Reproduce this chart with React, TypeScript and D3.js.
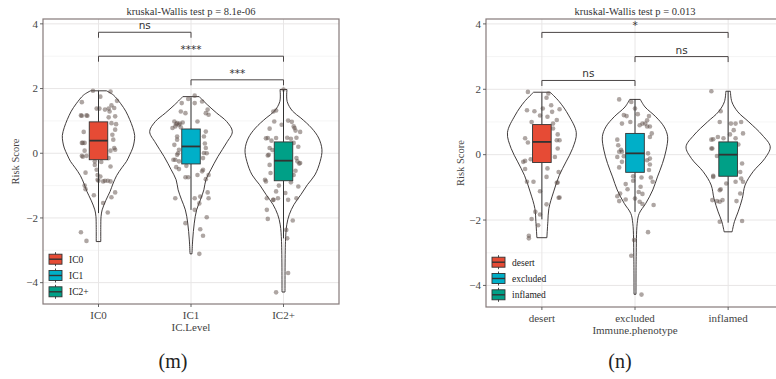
import React, { useEffect, useRef } from "react";
import * as d3 from "d3";

// categories
const icLevels = ["IC0", "IC1", "IC2+"];
const phenotypes = ["desert", "excluded", "inflamed"];
const fillColors = ["#E64B35", "#00AFC8", "#00A087"];
const yTicks = [-4, -2, 0, 2, 4];
const yMinor = [-3, -1, 1, 3];
const yDomain = [-4.66, 4.15];
const densityMax = 42;

// violin outlines: [risk score, density]
const icViolins = [
  [[1.93, 8], [1.8, 15], [1.53, 22.5], [1.3, 27.5], [1.04, 31.5], [0.8, 34.5], [0.55, 36.5], [0.35, 36], [0.16, 34.5], [-0.05, 31.5], [-0.25, 28.3], [-0.45, 23.5], [-0.69, 18.3], [-0.95, 14.5], [-1.18, 11.7], [-1.45, 7.5], [-1.75, 3.7], [-1.95, 2.6], [-2.3, 2.3], [-2.73, 2.3]],
  [[1.75, 8.3], [1.5, 16.5], [1.24, 26], [0.98, 36], [0.67, 41.7], [0.32, 35.8], [-0.1, 27.2], [-0.51, 20], [-0.82, 15], [-1.13, 13], [-1.44, 9.5], [-1.75, 5.7], [-2.16, 3.3], [-2.68, 1.7], [-3.11, 1]],
  [[1.97, 3.5], [1.6, 3.7], [1.3, 9.2], [1.09, 17.5], [0.78, 28.3], [0.47, 35.5], [0.11, 38.8], [-0.25, 37], [-0.67, 31.7], [-0.97, 24.2], [-1.28, 17.5], [-1.59, 10.5], [-1.9, 5.8], [-2.21, 3.3], [-2.73, 2], [-4.29, 1.5]],
];
const phenoViolins = [
  [[1.91, 8.3], [1.62, 17.5], [1.21, 26.7], [0.67, 34.5], [0.19, 30.8], [-0.22, 24.2], [-0.63, 17.5], [-1.14, 11.7], [-1.65, 7], [-2.05, 6], [-2.54, 5]],
  [[1.69, 5.3], [1.46, 10], [1.16, 20.8], [0.85, 29.2], [0.55, 32.7], [0.14, 31.2], [-0.27, 27.5], [-0.68, 22.5], [-1.08, 17.8], [-1.49, 10.8], [-1.8, 4.2], [-2.1, 2.2], [-3.12, 1.2], [-4.27, 1]],
  [[1.94, 2.3], [1.62, 3.7], [1.31, 9.7], [1.0, 20.8], [0.6, 34.2], [0.24, 42.2], [-0.12, 36.7], [-0.52, 25], [-0.93, 17], [-1.34, 14.2], [-1.75, 10], [-2.05, 6.3], [-2.36, 4]],
];

// jittered samples: [jitter, risk score]
const icPoints = [
  [[-0.06, 1.93], [0.13, 1.91], [-0.18, 1.58], [-0.02, 1.38], [0.01, 1.38], [0.07, 1.35], [0.11, 1.38], [0.14, 1.48], [0.17, 1.4], [0.12, 1.29], [-0.18, 1.16], [-0.12, 1.16], [0.11, 1.11], [0.18, 1.14], [0.14, 0.93], [0.19, 0.9], [0.15, 0.57], [0.16, 0.42], [0.18, 0.73], [0.07, 0.75], [-0.15, 0.32], [-0.18, 0.32], [-0.18, -0.08], [-0.13, -0.08], [-0.15, 0.08], [0.13, 0.08], [0.17, 0.16], [0.11, -0.15], [-0.04, -0.25], [-0.02, -0.51], [0.03, -0.27], [-0.04, -0.36], [-0.01, -0.67], [0.02, -0.72], [0.0, -0.85], [0.07, -0.85], [0.1, -0.85], [0.13, -0.87], [0.05, -0.87], [-0.14, -1.11], [0.18, -1.21], [0.14, -1.36], [0.05, -1.54], [0.1, -1.83], [-0.19, -2.44], [-0.13, -2.71], [-0.19, 1.17], [-0.13, 1.17], [-0.16, 0.66], [-0.17, 0.32], [-0.17, -0.11], [-0.14, -0.6], [-0.01, -0.82], [0.18, 0.11], [0.13, -0.41], [0.2, 1.62], [0.02, 1.75], [-0.15, -1.0], [-0.05, -1.3]],
  [[0.04, 1.78], [-0.03, 1.68], [0.12, 1.6], [-0.1, 1.55], [0.04, 1.55], [-0.11, 1.29], [-0.06, 1.24], [0.18, 1.35], [0.19, 1.19], [0.16, 1.24], [-0.18, 0.98], [-0.15, 0.93], [-0.17, 0.83], [-0.2, 0.78], [-0.13, 0.88], [-0.09, 0.95], [0.07, 0.98], [0.16, 0.67], [0.14, 0.52], [-0.15, 0.52], [-0.15, 0.42], [-0.18, 0.26], [-0.13, 0.11], [0.16, 0.16], [0.14, 0.01], [-0.15, -0.05], [-0.17, -0.2], [-0.19, -0.2], [-0.13, -0.25], [0.13, -0.15], [-0.16, -0.43], [-0.13, -0.49], [-0.05, -0.39], [0.13, -0.51], [-0.06, -0.74], [-0.03, -0.74], [0.07, -0.67], [0.12, -0.56], [0.19, -0.67], [0.16, -0.8], [0.18, -1.21], [0.19, -1.39], [0.1, -1.34], [0.04, -1.39], [0.09, -1.55], [-0.17, -1.39], [0.04, -1.75], [0.17, -1.98], [-0.06, -2.16], [0.1, -2.35], [0.13, -2.55], [0.09, -3.11], [-0.12, 0.92], [-0.16, 0.9], [-0.11, 0.8], [0.15, 0.3], [-0.14, 0.0], [0.17, 0.0]],
  [[0.0, 1.97], [-0.08, 1.32], [-0.1, 0.98], [-0.02, 0.88], [0.05, 1.01], [0.09, 0.97], [0.12, 0.78], [0.18, 0.66], [0.13, 0.7], [-0.15, 0.76], [-0.17, 0.47], [-0.19, 0.46], [-0.13, 0.39], [-0.08, 0.47], [0.04, 0.48], [0.14, 0.48], [0.11, 0.32], [-0.15, 0.16], [-0.17, -0.07], [-0.15, -0.36], [-0.14, -0.61], [-0.19, -0.87], [0.14, -0.15], [0.18, -0.3], [0.13, -0.54], [0.11, -0.67], [0.16, -1.03], [0.14, -1.39], [0.05, -1.44], [0.02, -1.23], [-0.06, -1.39], [-0.11, -1.44], [-0.08, -1.18], [-0.18, -1.75], [-0.17, -2.03], [0.1, -2.08], [0.03, -2.37], [0.04, -2.63], [0.05, -3.7], [-0.08, -4.3], [-0.11, 1.29], [-0.16, -0.05], [-0.2, -0.82], [-0.18, -1.39], [-0.11, -1.44], [0.15, -0.25], [0.11, 0.83], [0.08, 0.45], [0.17, -0.32], [-0.12, 0.1], [0.16, 0.2], [-0.05, -1.0], [0.08, -0.9]],
];
const phenoPoints = [
  [[-0.15, 1.92], [0.07, 1.87], [0.05, 1.74], [-0.16, 1.36], [-0.08, 1.33], [0.01, 1.41], [0.11, 1.31], [0.1, 1.51], [0.19, 1.39], [0.06, 1.16], [-0.11, 1.0], [0.16, 1.06], [0.12, 0.8], [0.17, 0.62], [0.19, 0.44], [0.16, 0.44], [-0.18, 0.5], [-0.15, 0.37], [0.17, 0.19], [0.14, -0.07], [-0.12, -0.14], [-0.2, -0.22], [-0.18, -0.44], [0.06, -0.42], [-0.16, -0.83], [-0.09, -0.83], [0.17, -0.85], [-0.02, -1.12], [0.19, -1.31], [0.05, -1.52], [-0.07, -1.75], [-0.02, -1.83], [-0.11, -1.97], [-0.04, -2.16], [-0.14, -2.48], [-0.14, -2.56], [-0.18, -0.19], [0.18, -1.32], [0.05, -0.68], [0.18, -0.53], [0.16, -0.86], [-0.02, 1.2], [0.12, 0.95], [-0.05, 0.55]],
  [[-0.17, 1.69], [-0.04, 1.61], [0.0, 1.41], [0.03, 1.24], [-0.12, 1.21], [-0.09, 1.18], [0.15, 1.18], [-0.14, 0.95], [-0.05, 1.0], [0.08, 0.95], [0.11, 0.95], [0.13, 0.86], [0.16, 0.86], [0.18, 0.65], [0.16, 0.54], [-0.19, 0.46], [-0.18, 0.29], [-0.17, 0.09], [-0.14, 0.09], [-0.19, -0.07], [-0.14, -0.22], [-0.17, -0.39], [0.14, 0.04], [0.13, -0.17], [0.16, -0.12], [0.15, -0.47], [0.17, -0.7], [0.19, -0.83], [-0.02, -0.66], [0.07, -0.7], [-0.02, -0.8], [0.06, -0.98], [-0.08, -1.06], [0.04, -1.14], [-0.16, -1.19], [-0.19, -1.27], [-0.1, -1.37], [-0.17, -1.42], [0.0, -1.34], [0.05, -1.44], [0.08, -1.51], [0.2, -1.54], [0.14, -2.37], [-0.01, -2.61], [-0.04, -3.09], [0.07, -4.28], [0.13, 1.05], [0.05, 0.9], [-0.15, 0.15], [-0.12, -0.05], [0.16, -0.3], [0.08, -1.2], [-0.1, -0.9]],
  [[-0.18, 1.94], [-0.08, 1.33], [0.03, 0.95], [0.08, 0.95], [0.06, 0.75], [0.16, 0.65], [0.02, 0.62], [-0.11, 0.54], [-0.16, 0.47], [-0.05, 0.5], [0.08, 0.5], [0.11, 0.31], [-0.17, 0.19], [-0.12, -0.04], [0.15, -0.27], [-0.16, -0.65], [0.14, -0.73], [0.08, -0.83], [0.16, -0.83], [-0.02, -0.88], [-0.08, -1.06], [0.13, -1.19], [-0.17, -1.39], [-0.12, -1.42], [-0.09, -1.44], [-0.06, -1.39], [0.09, -1.42], [-0.09, -2.05], [0.15, -2.03], [-0.09, 1.0], [0.14, 1.0], [-0.18, 0.46], [-0.18, 0.19], [-0.16, -0.68], [-0.09, -1.09], [0.13, -0.53]],
];

// box stats: [lower whisker, q1, median, q3, upper whisker]
const icBoxes = [
  [-1.85, -0.2, 0.39, 0.97, 1.93],
  [-1.75, -0.33, 0.21, 0.75, 1.73],
  [-2.63, -0.85, -0.23, 0.35, 1.96],
];
const phenoBoxes = [
  [-1.98, -0.24, 0.39, 0.92, 1.9],
  [-1.75, -0.54, 0.04, 0.65, 1.7],
  [-2.08, -0.66, 0.0, 0.39, 1.94],
];

// pairwise comparisons: [group a, group b, label, bracket height]
const icComparisons = [
  [0, 1, "ns", 3.74],
  [0, 2, "****", 3.0],
  [1, 2, "***", 2.27],
];
const phenoComparisons = [
  [0, 2, "*", 3.74],
  [1, 2, "ns", 3.0],
  [0, 1, "ns", 2.27],
];

const SERIF = "'Liberation Serif', 'Times New Roman', serif";

function drawPanel(g, p) {
  const { left, top, width, height } = p.frame;
  const bottom = top + height;
  const x = d3.scalePoint().domain(p.groups).range([left, left + width]).padding(0.6);
  const y = d3.scaleLinear().domain(yDomain).range([bottom, top]);
  const step = x.step();
  const dens = d3.scaleLinear().domain([0, densityMax]).range([0, 0.45 * step]);

  // background + grid
  g.append("rect").attr("x", left).attr("y", top).attr("width", width).attr("height", height).attr("fill", "#fff");
  yMinor.forEach(t => {
    g.append("line").attr("x1", left).attr("x2", left + width).attr("y1", y(t)).attr("y2", y(t))
      .attr("stroke", "#f3f2f2").attr("stroke-width", 0.8);
  });
  yTicks.forEach(t => {
    g.append("line").attr("x1", left).attr("x2", left + width).attr("y1", y(t)).attr("y2", y(t))
      .attr("stroke", "#e8e6e6").attr("stroke-width", 1);
  });
  p.groups.forEach(c => {
    g.append("line").attr("x1", x(c)).attr("x2", x(c)).attr("y1", top).attr("y2", bottom)
      .attr("stroke", "#e8e6e6").attr("stroke-width", 1);
  });

  // violins
  p.groups.forEach((c, i) => {
    const cx = x(c);
    const area = d3.area()
      .y(d => y(d[0]))
      .x0(d => cx - dens(d[1]))
      .x1(d => cx + dens(d[1]))
      .curve(d3.curveCatmullRom.alpha(0.5));
    g.append("path").attr("d", area(p.violins[i])).attr("fill", "none")
      .attr("stroke", "#2b2626").attr("stroke-width", 0.9);
  });

  // jittered points
  p.groups.forEach((c, i) => {
    const cx = x(c);
    p.points[i].forEach(d => {
      g.append("circle").attr("cx", cx + d[0] * step).attr("cy", y(d[1])).attr("r", 2.3)
        .attr("fill", "#5e4d48").attr("fill-opacity", 0.5);
    });
  });

  // boxplots
  const boxHalf = 0.1 * step;
  p.groups.forEach((c, i) => {
    const cx = x(c);
    const [lo, q1, med, q3, hi] = p.boxes[i];
    g.append("line").attr("x1", cx).attr("x2", cx).attr("y1", y(hi)).attr("y2", y(q3))
      .attr("stroke", "#333").attr("stroke-width", 1);
    g.append("line").attr("x1", cx).attr("x2", cx).attr("y1", y(q1)).attr("y2", y(lo))
      .attr("stroke", "#333").attr("stroke-width", 1);
    g.append("rect").attr("x", cx - boxHalf).attr("y", y(q3)).attr("width", 2 * boxHalf)
      .attr("height", y(q1) - y(q3)).attr("fill", fillColors[i]).attr("stroke", "#333").attr("stroke-width", 0.9);
    g.append("line").attr("x1", cx - boxHalf).attr("x2", cx + boxHalf).attr("y1", y(med)).attr("y2", y(med))
      .attr("stroke", "#333").attr("stroke-width", 1.8);
  });

  // significance brackets
  p.comparisons.forEach(([a, b, label, h]) => {
    const xa = x(p.groups[a]);
    const xb = x(p.groups[b]);
    const yb = y(h);
    g.append("path").attr("d", `M${xa},${yb + 5.5}V${yb}H${xb}V${yb + 5.5}`)
      .attr("fill", "none").attr("stroke", "#4a4545").attr("stroke-width", 1);
    g.append("text").attr("x", (xa + xb) / 2).attr("y", yb - 3).attr("text-anchor", "middle")
      .attr("font-family", "'DejaVu Sans', sans-serif").attr("font-size", 10.5).attr("fill", "#333")
      .text(label);
  });

  // legend inside panel
  p.groups.forEach((c, i) => {
    const ky = bottom - 44.8 + i * 16.3;
    const kx = left + 6;
    const lg = g.append("g");
    lg.append("line").attr("x1", kx + 6.5).attr("x2", kx + 6.5).attr("y1", ky - 7).attr("y2", ky + 7)
      .attr("stroke", "#333").attr("stroke-width", 0.9);
    lg.append("rect").attr("x", kx).attr("y", ky - 5).attr("width", 13).attr("height", 10)
      .attr("fill", fillColors[i]).attr("stroke", "#333").attr("stroke-width", 0.9);
    lg.append("line").attr("x1", kx).attr("x2", kx + 13).attr("y1", ky).attr("y2", ky)
      .attr("stroke", "#333").attr("stroke-width", 1.4);
    lg.append("text").attr("x", kx + 20).attr("y", ky + 3.5).attr("font-family", SERIF)
      .attr("font-size", 9.5).attr("fill", "#222").text(c);
  });

  // panel border
  g.append("rect").attr("x", left).attr("y", top).attr("width", width).attr("height", height)
    .attr("fill", "none").attr("stroke", "#857a7a").attr("stroke-width", 1.2);

  // y axis
  yTicks.forEach(t => {
    g.append("line").attr("x1", left - 3).attr("x2", left).attr("y1", y(t)).attr("y2", y(t))
      .attr("stroke", "#555").attr("stroke-width", 0.9);
    g.append("text").attr("x", left - 5).attr("y", y(t) + 3.8).attr("text-anchor", "end")
      .attr("font-family", SERIF).attr("font-size", 11).attr("fill", "#444")
      .text(t < 0 ? `\u2212${Math.abs(t)}` : `${t}`);
  });
  // x axis
  p.groups.forEach(c => {
    g.append("line").attr("x1", x(c)).attr("x2", x(c)).attr("y1", bottom).attr("y2", bottom + 3)
      .attr("stroke", "#555").attr("stroke-width", 0.9);
    g.append("text").attr("x", x(c)).attr("y", bottom + 14.5).attr("text-anchor", "middle")
      .attr("font-family", SERIF).attr("font-size", 11).attr("fill", "#444").text(c);
  });

  // titles
  g.append("text").attr("x", left + width / 2).attr("y", bottom + 26.5).attr("text-anchor", "middle")
    .attr("font-family", SERIF).attr("font-size", 11).attr("fill", "#444").text(p.xTitle);
  g.append("text").attr("transform", `translate(${p.yTitleX},${top + height / 2}) rotate(-90)`)
    .attr("text-anchor", "middle").attr("font-family", SERIF).attr("font-size", 10.5).attr("fill", "#444")
    .text("Risk Score");
  g.append("text").attr("x", left + width / 2).attr("y", 14.5).attr("text-anchor", "middle")
    .attr("font-family", SERIF).attr("font-size", 10.5).attr("fill", "#333").text(p.title);
  g.append("text").attr("x", p.tagX).attr("y", 368).attr("text-anchor", "middle")
    .attr("font-family", SERIF).attr("font-size", 20).attr("fill", "#222").text(p.tag);
}

export default function App() {
  const svgRef = useRef(null);

  useEffect(() => {
    if (!svgRef.current) return;
    const svg = d3.select(svgRef.current);
    svg.selectAll("*").remove();

    drawPanel(svg.append("g"), {
      frame: { left: 43, top: 19, width: 296, height: 285 },
      groups: icLevels,
      violins: icViolins,
      points: icPoints,
      boxes: icBoxes,
      comparisons: icComparisons,
      title: "kruskal-Wallis test p = 8.1e-06",
      xTitle: "IC.Level",
      yTitleX: 19,
      tag: "(m)",
      tagX: 173,
    });
    drawPanel(svg.append("g"), {
      frame: { left: 486, top: 19, width: 298, height: 288 },
      groups: phenotypes,
      violins: phenoViolins,
      points: phenoPoints,
      boxes: phenoBoxes,
      comparisons: phenoComparisons,
      title: "kruskal-Wallis test p = 0.013",
      xTitle: "Immune.phenotype",
      yTitleX: 464,
      tag: "(n)",
      tagX: 620,
    });
  }, []);

  return (
    <svg ref={svgRef} width={776} height={379}
      style={{ position: "absolute", left: 0, top: 0, background: "#fff" }} />
  );
}
